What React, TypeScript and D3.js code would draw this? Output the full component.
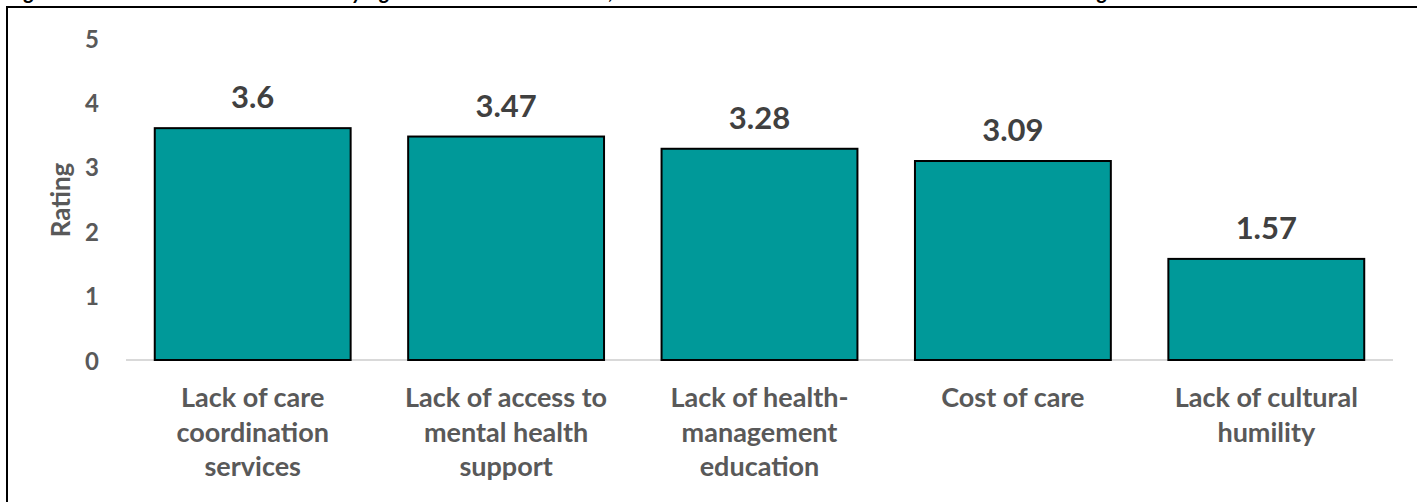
import React from "react";
import * as d3 from "d3";

const categories: string[][] = [
  ["Lack of care", "coordination", "services"],
  ["Lack of access to", "mental health", "support"],
  ["Lack of health-", "management", "education"],
  ["Cost of care"],
  ["Lack of cultural", "humility"],
];
const values: number[] = [3.6, 3.47, 3.28, 3.09, 1.57];
const yTicks: number[] = [0, 1, 2, 3, 4, 5];
const yLabel = "Rating";
const title =
  "Figure 9: Mean Rated Health Barriers by Agencies with Older Clients, Collected in the 2023 Health Needs Assessment Among";

const W = 1417;
const H = 502;
const FONT = "Lato, 'Open Sans', sans-serif";

export default function App() {
  const x = d3
    .scaleBand<number>()
    .domain(d3.range(values.length))
    .range([126, 1393])
    .paddingInner(0.227)
    .paddingOuter(0.1135);
  const y = d3.scaleLinear().domain([0, 5]).range([360, 38]);

  return (
    <svg
      width={W}
      height={H}
      style={{ position: "absolute", left: 0, top: 0, background: "#fff" }}
      fontFamily={FONT}
    >
      <rect x={0} y={0} width={W} height={H} fill="#fff" />
      <text x={8} y={-1.5} fontSize={21} fontWeight={700} fontStyle="italic" fill="#000">
        {title}
      </text>
      <rect x={7} y={7} width={W + 50} height={H + 50} fill="none" stroke="#000" strokeWidth={2} />

      {yTicks.map((t) => (
        <text
          key={t}
          x={99}
          y={y(t)}
          textAnchor="end"
          dominantBaseline="central"
          fontSize={24}
          fontWeight={700}
          fill="#595959"
        >
          {t}
        </text>
      ))}
      <text
        transform={`translate(60,${y(2.5) + 1}) rotate(-90)`}
        textAnchor="middle"
        dominantBaseline="central"
        fontSize={26}
        fontWeight={700}
        fill="#595959"
      >
        {yLabel}
      </text>

      <line x1={126} x2={1393} y1={y(0)} y2={y(0)} stroke="#d9d9d9" strokeWidth={2} />

      {values.map((v, i) => (
        <g key={i}>
          <rect
            x={x(i)!}
            y={y(v)}
            width={x.bandwidth()}
            height={y(0) - y(v)}
            fill="#009999"
            stroke="#000"
            strokeWidth={2}
          />
          <text
            x={x(i)! + x.bandwidth() / 2}
            y={y(v) - 20}
            textAnchor="middle"
            fontSize={31}
            fontWeight={700}
            fill="#404040"
          >
            {String(v)}
          </text>
          {categories[i].map((line, j) => (
            <text
              key={j}
              x={x(i)! + x.bandwidth() / 2}
              y={407 + j * 34.5}
              textAnchor="middle"
              fontSize={27}
              fontWeight={700}
              fill="#595959"
            >
              {line}
            </text>
          ))}
        </g>
      ))}
    </svg>
  );
}
